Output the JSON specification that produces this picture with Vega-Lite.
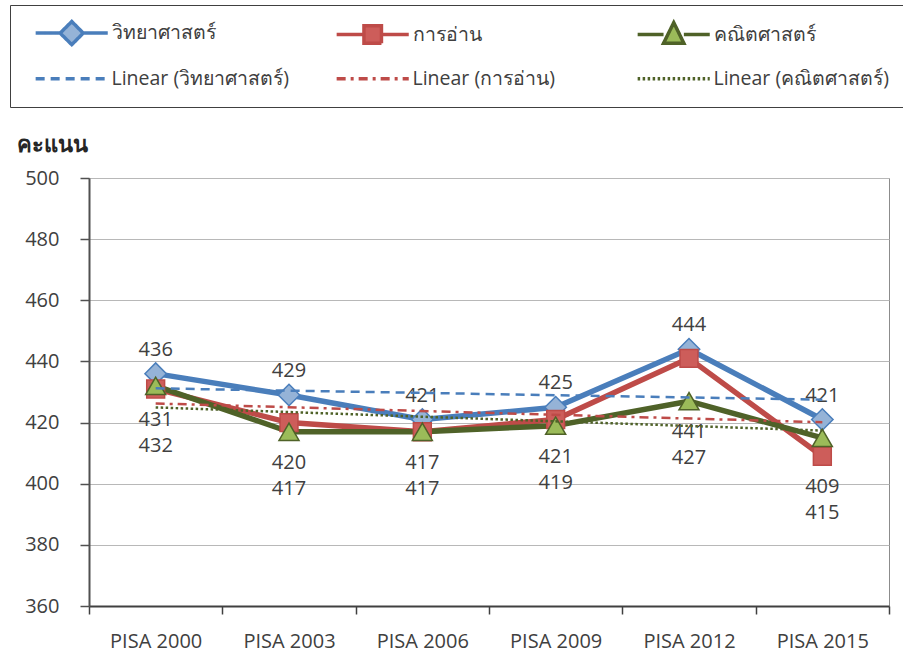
{
  "$schema": "https://vega.github.io/schema/vega-lite/v6.json",
  "width": 800,
  "height": 428,
  "autosize": {"type": "none"},
  "padding": {"left": 89, "top": 178, "right": 14, "bottom": 47},
  "background": "white",
  "config": {
    "font": "Open Sans",
    "view": {"stroke": "#8c8c8c", "strokeWidth": 1},
    "axis": {"labelColor": "#404040", "labelFontSize": 20, "labelFont": "Open Sans"}
  },
  "data": {
    "values": [
      {"year": "PISA 2000", "idx": 0, "subject": "วิทยาศาสตร์", "trend": "Linear (วิทยาศาสตร์)", "score": 436},
      {"year": "PISA 2003", "idx": 1, "subject": "วิทยาศาสตร์", "trend": "Linear (วิทยาศาสตร์)", "score": 429},
      {"year": "PISA 2006", "idx": 2, "subject": "วิทยาศาสตร์", "trend": "Linear (วิทยาศาสตร์)", "score": 421},
      {"year": "PISA 2009", "idx": 3, "subject": "วิทยาศาสตร์", "trend": "Linear (วิทยาศาสตร์)", "score": 425},
      {"year": "PISA 2012", "idx": 4, "subject": "วิทยาศาสตร์", "trend": "Linear (วิทยาศาสตร์)", "score": 444},
      {"year": "PISA 2015", "idx": 5, "subject": "วิทยาศาสตร์", "trend": "Linear (วิทยาศาสตร์)", "score": 421},
      {"year": "PISA 2000", "idx": 0, "subject": "การอ่าน", "trend": "Linear (การอ่าน)", "score": 431},
      {"year": "PISA 2003", "idx": 1, "subject": "การอ่าน", "trend": "Linear (การอ่าน)", "score": 420},
      {"year": "PISA 2006", "idx": 2, "subject": "การอ่าน", "trend": "Linear (การอ่าน)", "score": 417},
      {"year": "PISA 2009", "idx": 3, "subject": "การอ่าน", "trend": "Linear (การอ่าน)", "score": 421},
      {"year": "PISA 2012", "idx": 4, "subject": "การอ่าน", "trend": "Linear (การอ่าน)", "score": 441},
      {"year": "PISA 2015", "idx": 5, "subject": "การอ่าน", "trend": "Linear (การอ่าน)", "score": 409},
      {"year": "PISA 2000", "idx": 0, "subject": "คณิตศาสตร์", "trend": "Linear (คณิตศาสตร์)", "score": 432},
      {"year": "PISA 2003", "idx": 1, "subject": "คณิตศาสตร์", "trend": "Linear (คณิตศาสตร์)", "score": 417},
      {"year": "PISA 2006", "idx": 2, "subject": "คณิตศาสตร์", "trend": "Linear (คณิตศาสตร์)", "score": 417},
      {"year": "PISA 2009", "idx": 3, "subject": "คณิตศาสตร์", "trend": "Linear (คณิตศาสตร์)", "score": 419},
      {"year": "PISA 2012", "idx": 4, "subject": "คณิตศาสตร์", "trend": "Linear (คณิตศาสตร์)", "score": 427},
      {"year": "PISA 2015", "idx": 5, "subject": "คณิตศาสตร์", "trend": "Linear (คณิตศาสตร์)", "score": 415}
    ]
  },
  "layer": [
    {
      "encoding": {
        "x": {
          "field": "year", "type": "nominal", "sort": null,
          "scale": {"type": "band", "paddingInner": 0, "paddingOuter": 0},
          "axis": {
            "title": null, "labelAngle": 0, "tickBand": "extent", "grid": false,
            "domainColor": "#404040", "domainWidth": 2, "tickColor": "#404040", "tickWidth": 1.5,
            "tickSize": 8, "labelPadding": 17
          }
        },
        "y": {
          "field": "score", "type": "quantitative",
          "scale": {"domain": [360, 500], "nice": false, "zero": false},
          "axis": {
            "values": [360, 380, 400, 420, 440, 460, 480, 500],
            "title": "คะแนน", "titleAngle": 0, "titleAlign": "left", "titleBaseline": "middle",
            "titleX": -73, "titleY": -34, "titleFontSize": 22, "titleFontWeight": "bold", "titleColor": "#262626",
            "gridColor": "#b8b8b8", "gridWidth": 1,
            "domainColor": "#505050", "domainWidth": 2, "tickColor": "#505050", "tickWidth": 1.5, "tickSize": 9,
            "labelPadding": 21
          }
        }
      },
      "layer": [
        {
          "mark": {"type": "line", "strokeWidth": 5.5, "strokeJoin": "round", "strokeCap": "round"},
          "encoding": {"stroke": {"field": "subject", "type": "nominal"}}
        },
        {
          "transform": [{"filter": "datum.subject === 'วิทยาศาสตร์'"}],
          "mark": {"type": "point", "shape": "diamond", "filled": true, "opacity": 1, "fill": "#95b3d7", "stroke": "#4a7ebb", "strokeWidth": 1.5, "size": 460}
        },
        {
          "transform": [{"filter": "datum.subject === 'การอ่าน'"}],
          "mark": {"type": "point", "shape": "square", "filled": true, "opacity": 1, "fill": "#cd5d5a", "stroke": "#be4b48", "strokeWidth": 1.5, "size": 320}
        },
        {
          "transform": [{"filter": "datum.subject === 'คณิตศาสตร์'"}],
          "mark": {"type": "point", "shape": "triangle-up", "filled": true, "opacity": 1, "fill": "#9bbb59", "stroke": "#4f6228", "strokeWidth": 1.5, "size": 400}
        },
        {
          "transform": [{"filter": "datum.subject === 'วิทยาศาสตร์'"}],
          "mark": {"type": "text", "dy": -24, "fontSize": 20, "color": "#404040"},
          "encoding": {"text": {"field": "score", "type": "quantitative"}}
        },
        {
          "transform": [
            {"filter": "datum.subject !== 'วิทยาศาสตร์'"},
            {"joinaggregate": [{"op": "min", "field": "score", "as": "low"}], "groupby": ["year"]},
            {"filter": "datum.subject === 'การอ่าน'"}
          ],
          "mark": {"type": "text", "dy": 31, "fontSize": 20, "color": "#404040"},
          "encoding": {"y": {"field": "low", "type": "quantitative"}, "text": {"field": "score", "type": "quantitative"}}
        },
        {
          "transform": [
            {"filter": "datum.subject !== 'วิทยาศาสตร์'"},
            {"joinaggregate": [{"op": "min", "field": "score", "as": "low"}], "groupby": ["year"]},
            {"filter": "datum.subject === 'คณิตศาสตร์'"}
          ],
          "mark": {"type": "text", "dy": 57, "fontSize": 20, "color": "#404040"},
          "encoding": {"y": {"field": "low", "type": "quantitative"}, "text": {"field": "score", "type": "quantitative"}}
        }
      ]
    },
    {
      "transform": [{"regression": "score", "on": "idx", "groupby": ["trend"], "method": "linear"}],
      "mark": {"type": "line", "strokeWidth": 2.5},
      "encoding": {
        "x": {"field": "idx", "type": "quantitative", "scale": {"domain": [-0.5, 5.5], "nice": false, "zero": false}, "axis": null},
        "y": {"field": "score", "type": "quantitative", "scale": {"domain": [360, 500], "nice": false, "zero": false}},
        "stroke": {"field": "trend", "type": "nominal"},
        "strokeDash": {"field": "trend", "type": "nominal"}
      }
    },
    {
      "data": {
        "values": [
          {"series": "วิทยาศาสตร์"},
          {"series": "การอ่าน"},
          {"series": "คณิตศาสตร์"},
          {"series": "Linear (วิทยาศาสตร์)"},
          {"series": "Linear (การอ่าน)"},
          {"series": "Linear (คณิตศาสตร์)"}
        ]
      },
      "mark": {"type": "point", "opacity": 0, "filled": true},
      "encoding": {
        "stroke": {
          "field": "series", "type": "nominal",
          "scale": {
            "domain": ["วิทยาศาสตร์", "การอ่าน", "คณิตศาสตร์", "Linear (วิทยาศาสตร์)", "Linear (การอ่าน)", "Linear (คณิตศาสตร์)"],
            "range": ["#4a7ebb", "#be4b48", "#4f6228", "#4a7ebb", "#be4b48", "#4f6228"]
          },
          "legend": {
            "title": null, "orient": "none", "legendX": -79, "legendY": -173,
            "direction": "horizontal", "columns": 3, "gridAlign": "all",
            "columnPadding": 40, "rowPadding": 16, "padding": 18,
            "strokeColor": "#404040", "fillColor": "white",
            "symbolSize": 196, "symbolStrokeWidth": 3.5, "symbolOpacity": 1,
            "labelOffset": 64, "labelFontSize": 19.5, "labelColor": "#404040", "labelLimit": 300
          }
        },
        "fill": {
          "field": "series", "type": "nominal",
          "scale": {
            "domain": ["วิทยาศาสตร์", "การอ่าน", "คณิตศาสตร์", "Linear (วิทยาศาสตร์)", "Linear (การอ่าน)", "Linear (คณิตศาสตร์)"],
            "range": ["#95b3d7", "#cd5d5a", "#9bbb59", "transparent", "transparent", "transparent"]
          },
          "legend": {"title": null, "orient": "none", "legendX": -79, "legendY": -173}
        },
        "shape": {
          "field": "series", "type": "nominal",
          "scale": {
            "domain": ["วิทยาศาสตร์", "การอ่าน", "คณิตศาสตร์", "Linear (วิทยาศาสตร์)", "Linear (การอ่าน)", "Linear (คณิตศาสตร์)"],
            "range": [
              "M-0.3,0H3.2M6.5,0H10M4.86,-1.65L6.5,0L4.86,1.65L3.2,0Z",
              "M-0.3,0H3.6M6.1,0H10M3.6,-1.25H6.1V1.25H3.6Z",
              "M-0.3,0H3.4M6.3,0H10M4.86,-1.7L6.3,1.25H3.4Z",
              "M-0.3,0H10",
              "M-0.3,0H10",
              "M-0.3,0H10"
            ]
          },
          "legend": {"title": null, "orient": "none", "legendX": -79, "legendY": -173}
        },
        "strokeDash": {
          "field": "series", "type": "nominal",
          "scale": {
            "domain": ["วิทยาศาสตร์", "การอ่าน", "คณิตศาสตร์", "Linear (วิทยาศาสตร์)", "Linear (การอ่าน)", "Linear (คณิตศาสตร์)"],
            "range": [[1, 0], [1, 0], [1, 0], [9, 6], [9, 5, 3, 5], [2.5, 2.5]]
          },
          "legend": {"title": null, "orient": "none", "legendX": -79, "legendY": -173}
        }
      }
    }
  ],
  "resolve": {"scale": {"x": "independent"}}
}
